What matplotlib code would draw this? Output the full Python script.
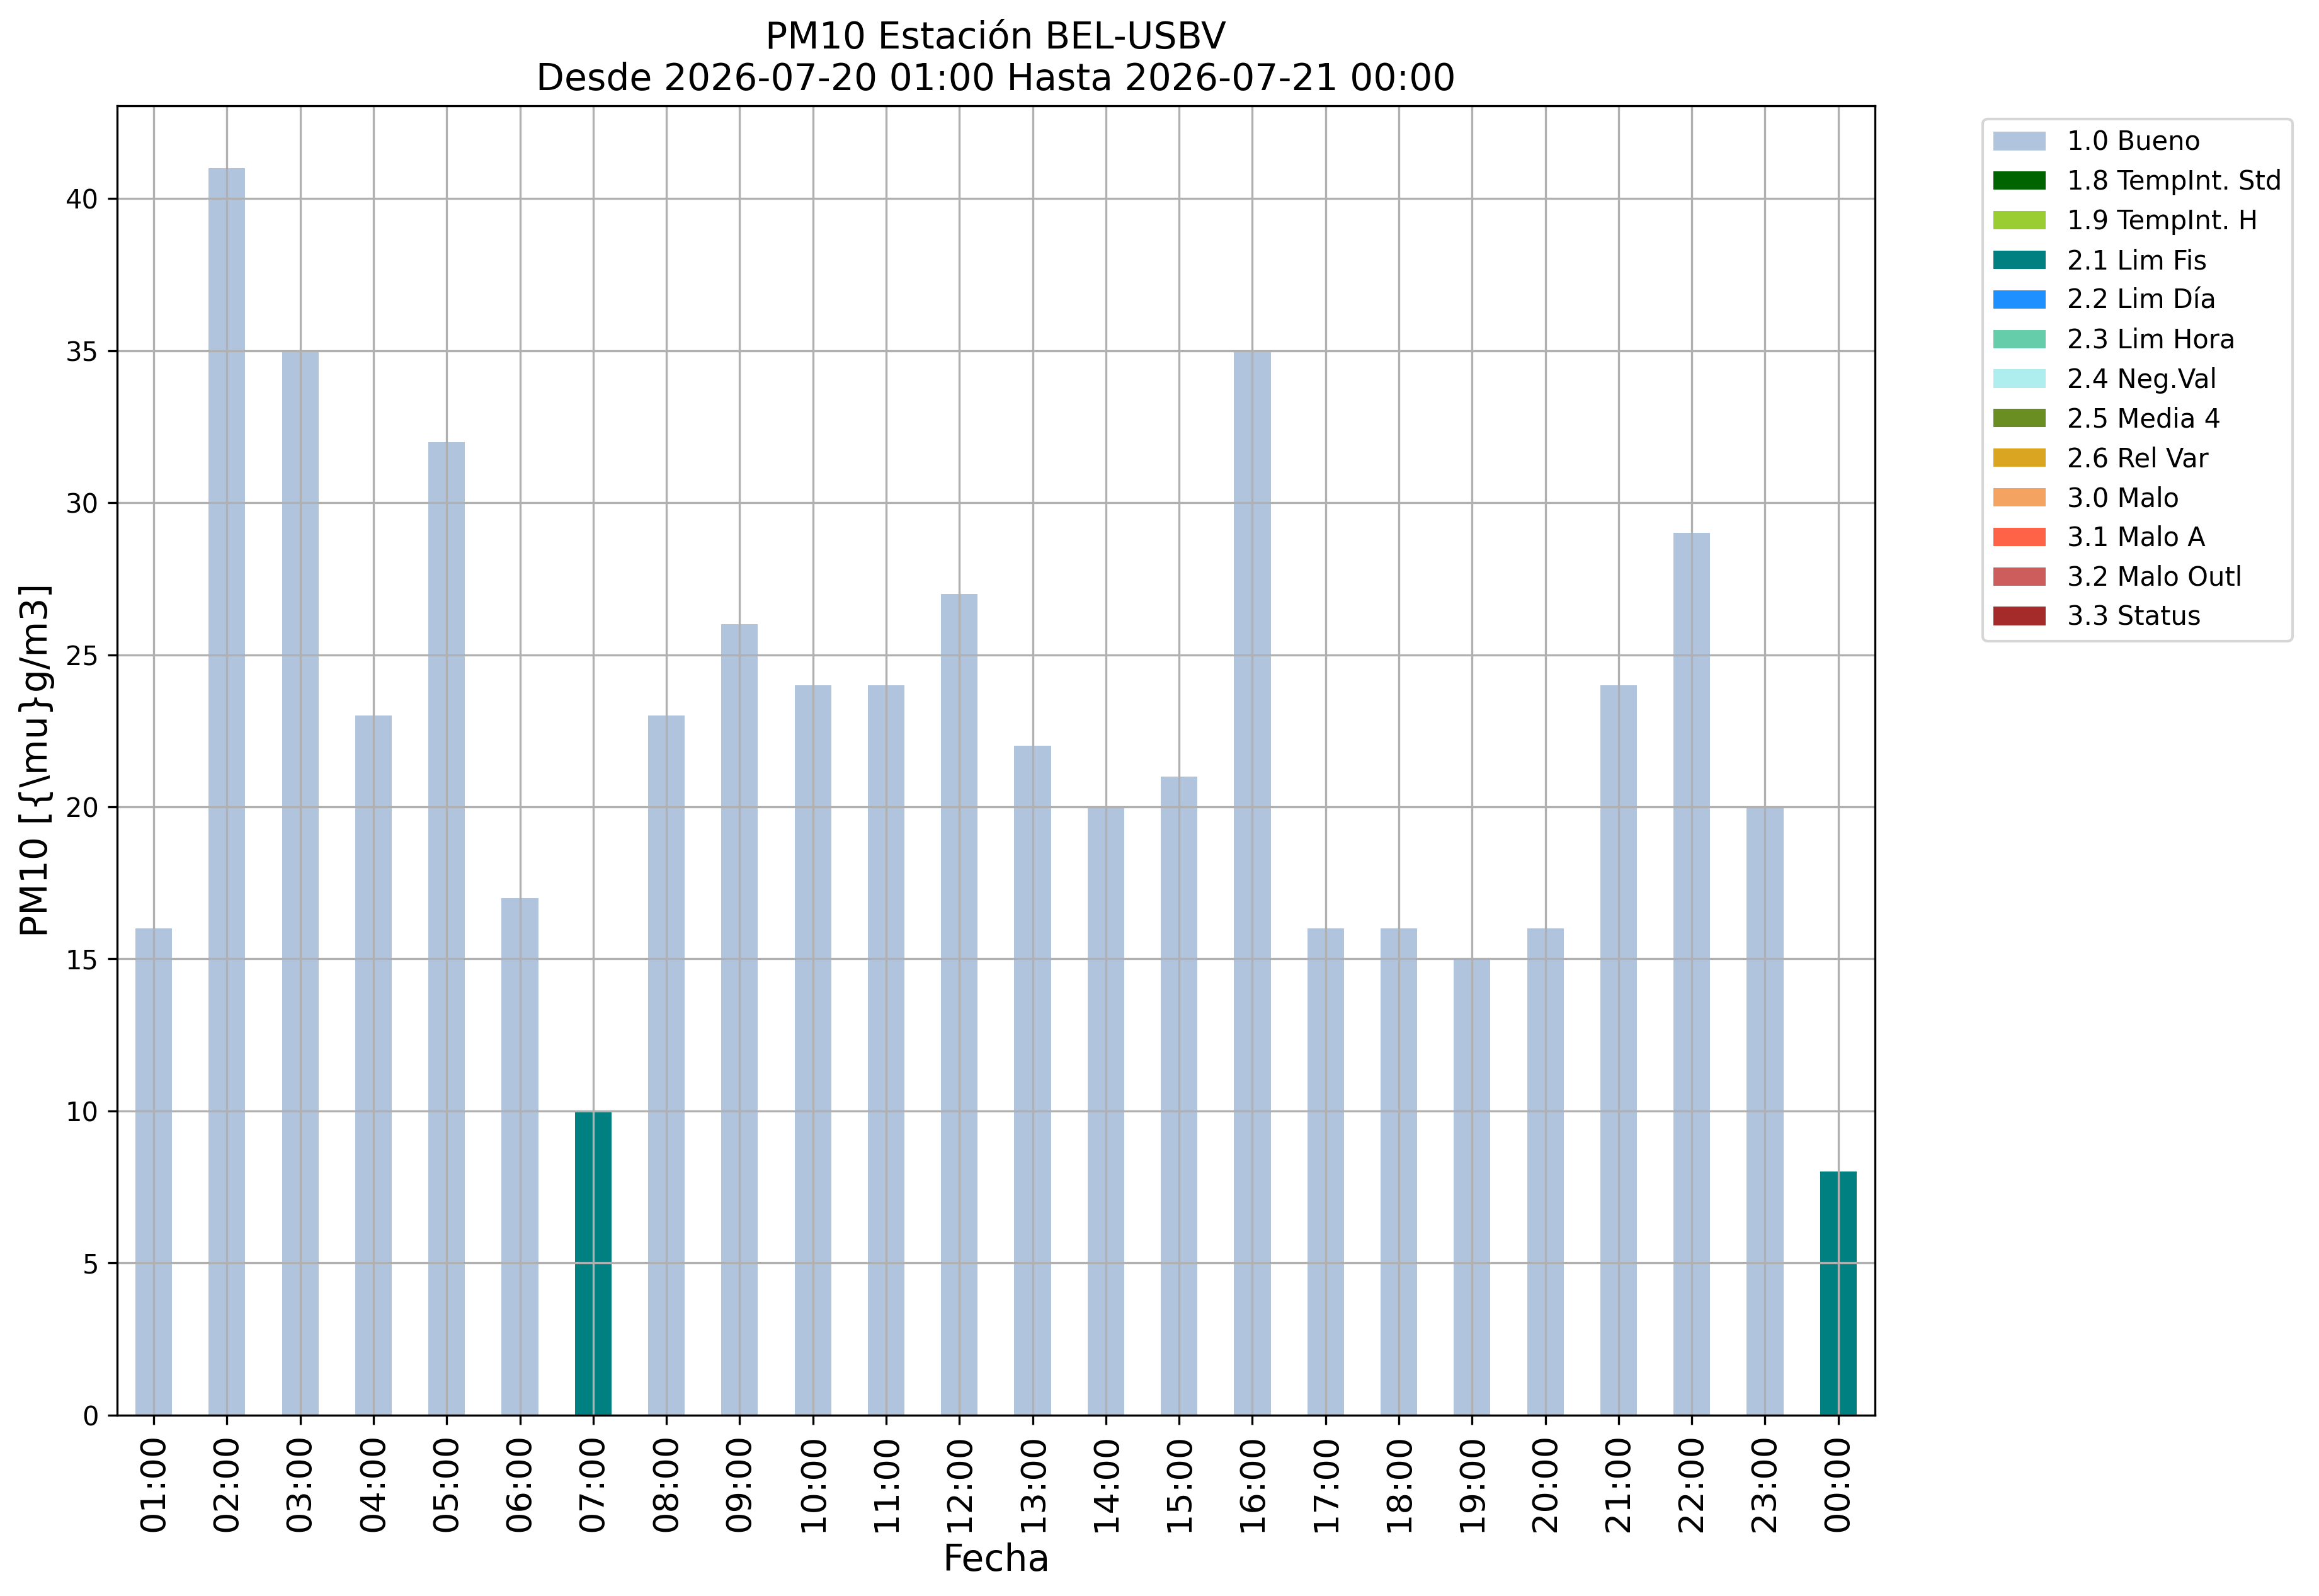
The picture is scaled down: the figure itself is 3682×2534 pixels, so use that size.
import numpy as np
import matplotlib
matplotlib.use("Agg")
import matplotlib.pyplot as plt

# hourly PM10 values and their quality flag
hours = ["01:00", "02:00", "03:00", "04:00", "05:00", "06:00", "07:00", "08:00",
         "09:00", "10:00", "11:00", "12:00", "13:00", "14:00", "15:00", "16:00",
         "17:00", "18:00", "19:00", "20:00", "21:00", "22:00", "23:00", "00:00"]
pm10 = [16, 41, 35, 23, 32, 17, 10, 23, 26, 24, 24, 27, 22, 20, 21, 35,
        16, 16, 15, 16, 24, 29, 20, 8]
flags = ["1.0", "1.0", "1.0", "1.0", "1.0", "1.0", "2.1", "1.0", "1.0", "1.0",
         "1.0", "1.0", "1.0", "1.0", "1.0", "1.0", "1.0", "1.0", "1.0", "1.0",
         "1.0", "1.0", "1.0", "2.1"]

flag_codes = ["1.0", "1.8", "1.9", "2.1", "2.2", "2.3", "2.4", "2.5", "2.6",
              "3.0", "3.1", "3.2", "3.3"]
flag_names = ["1.0 Bueno", "1.8 TempInt. Std", "1.9 TempInt. H", "2.1 Lim Fis",
              "2.2 Lim Día", "2.3 Lim Hora", "2.4 Neg.Val", "2.5 Media 4",
              "2.6 Rel Var", "3.0 Malo", "3.1 Malo A", "3.2 Malo Outl", "3.3 Status"]
flag_colors = ["lightsteelblue", "darkgreen", "yellowgreen", "teal", "dodgerblue",
               "mediumaquamarine", "paleturquoise", "olivedrab", "goldenrod",
               "sandybrown", "tomato", "indianred", "brown"]

fig = plt.figure(figsize=(3682 / 300, 2534 / 300), dpi=300)
ax = fig.add_axes([0.0505, 0.1134, 0.758, 0.8203])

x = np.arange(len(hours))
bottom = np.zeros(len(hours))
for code, name, color in zip(flag_codes, flag_names, flag_colors):
    vals = np.array([v if f == code else 0 for v, f in zip(pm10, flags)], dtype=float)
    ax.bar(x, vals, width=0.5, bottom=bottom, color=color, label=name)
    bottom += vals

ax.set_xlim(-0.5, len(hours) - 0.5)
ax.set_ylim(0, max(pm10) * 1.05)
ax.set_xticks(x)
ax.set_xticklabels(hours, rotation=90, fontsize=13)
ax.tick_params(axis="y", labelsize=10)
ax.grid(True)

ax.set_xlabel("Fecha", fontsize=14)
ax.set_ylabel("PM10 [{\\mu}g/m3]", fontsize=14)
ax.set_title("PM10 Estación BEL-USBV\nDesde 2026-07-20 01:00 Hasta 2026-07-21 00:00",
             fontsize=14)
ax.legend(bbox_to_anchor=(1.054, 1), loc="upper left", fontsize=10)

fig.savefig("out.png", dpi=300)
